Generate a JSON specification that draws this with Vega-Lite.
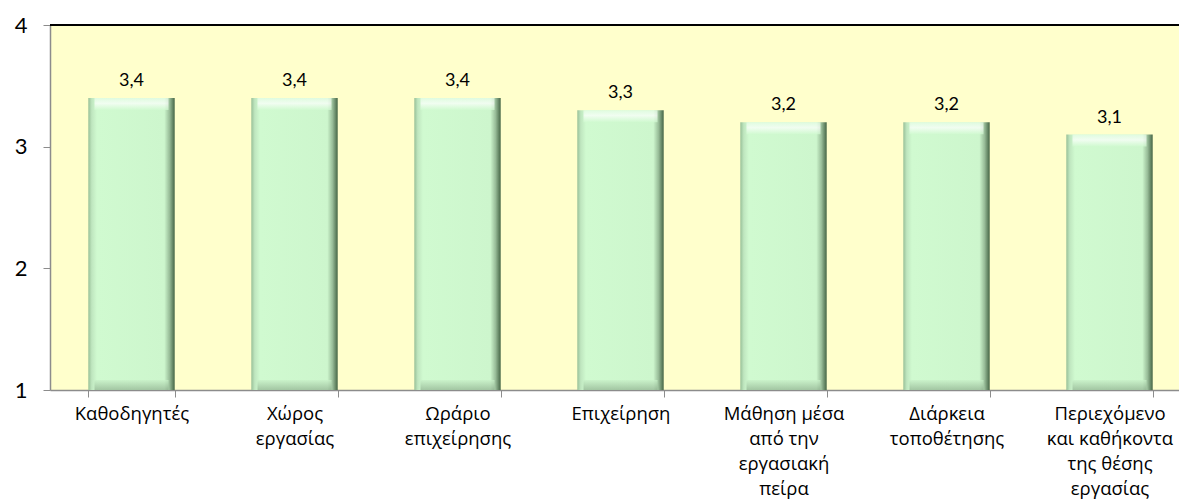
{
  "$schema": "https://vega.github.io/schema/vega-lite/v6.json",
  "autosize": "none",
  "padding": {"left": 50, "top": 25, "right": 0, "bottom": 114},
  "width": 1129,
  "height": 365,
  "background": "white",
  "config": {
    "view": {"fill": "#FFFFCC", "stroke": null},
    "font": "Open Sans",
    "axis": {"labelColor": "#000000", "grid": false, "title": null}
  },
  "data": {
    "values": [
      {"category": "Καθοδηγητές", "value": 3.4, "label": "3,4"},
      {"category": "Χώρος εργασίας", "value": 3.4, "label": "3,4"},
      {"category": "Ωράριο επιχείρησης", "value": 3.4, "label": "3,4"},
      {"category": "Επιχείρηση", "value": 3.3, "label": "3,3"},
      {"category": "Μάθηση μέσα από την εργασιακή πείρα", "value": 3.2, "label": "3,2"},
      {"category": "Διάρκεια τοποθέτησης", "value": 3.2, "label": "3,2"},
      {"category": "Περιεχόμενο και καθήκοντα της θέσης εργασίας", "value": 3.1, "label": "3,1"}
    ]
  },
  "encoding": {
    "x": {
      "field": "category",
      "type": "nominal",
      "sort": null,
      "scale": {"range": [0, 1141], "paddingInner": 0.47, "paddingOuter": 0.235},
      "axis": {
        "labelAngle": 0,
        "labelFont": "Open Sans",
        "labelFontSize": 18.5,
        "labelLineHeight": 25,
        "labelPadding": 7,
        "tickSize": 7,
        "tickColor": "#8c8c8c",
        "domainColor": "#8c8c8c",
        "domainWidth": 1.5,
        "tickBand": "extent",
        "labelLimit": 200,
        "labelExpr": "({'Χώρος εργασίας':['Χώρος','εργασίας'],'Ωράριο επιχείρησης':['Ωράριο','επιχείρησης'],'Μάθηση μέσα από την εργασιακή πείρα':['Μάθηση μέσα','από την','εργασιακή','πείρα'],'Διάρκεια τοποθέτησης':['Διάρκεια','τοποθέτησης'],'Περιεχόμενο και καθήκοντα της θέσης εργασίας':['Περιεχόμενο','και καθήκοντα','της θέσης','εργασίας']})[datum.label] || datum.label"
      }
    },
    "y": {
      "field": "value",
      "type": "quantitative",
      "scale": {"domain": [1, 4], "nice": false, "zero": false},
      "axis": {
        "values": [1, 2, 3, 4],
        "labelFont": "Lato",
        "labelFontSize": 22,
        "labelPadding": 16,
        "tickSize": 7,
        "tickColor": "#8c8c8c",
        "domainColor": "#8c8c8c",
        "domainWidth": 1.5
      }
    }
  },
  "layer": [
    {
      "mark": {
        "type": "bar",
        "color": {
          "gradient": "linear", "x1": 0, "y1": 0, "x2": 1, "y2": 0,
          "stops": [
            {"offset": 0, "color": "#98c098"},
            {"offset": 0.04, "color": "#bfe6bf"},
            {"offset": 0.1, "color": "#d0fad0"},
            {"offset": 0.88, "color": "#cdf6cd"},
            {"offset": 0.94, "color": "#98bc98"},
            {"offset": 1, "color": "#456545"}
          ]
        }
      },
      "encoding": {"y2": {"datum": 1}}
    },
    {
      "mark": {
        "type": "tick",
        "orient": "horizontal",
        "size": 74,
        "thickness": 12,
        "yOffset": 6,
        "color": {
          "gradient": "linear", "x1": 0, "y1": 0, "x2": 0, "y2": 1,
          "stops": [
            {"offset": 0, "color": "#e6fde6"},
            {"offset": 0.45, "color": "#ffffff"},
            {"offset": 1, "color": "#d0fad0"}
          ]
        }
      }
    },
    {
      "mark": {
        "type": "tick",
        "orient": "horizontal",
        "size": 74,
        "thickness": 10,
        "yOffset": -5,
        "color": {
          "gradient": "linear", "x1": 0, "y1": 0, "x2": 0, "y2": 1,
          "stops": [
            {"offset": 0, "color": "#c8f0c8"},
            {"offset": 1, "color": "#8fb08f"}
          ]
        }
      },
      "encoding": {"y": {"datum": 1}}
    },
    {
      "mark": {"type": "text", "baseline": "bottom", "dy": -8, "fontSize": 18, "font": "Lato", "color": "#000000"},
      "encoding": {"text": {"field": "label"}}
    },
    {
      "mark": {"type": "rule", "color": "#000000", "strokeWidth": 2},
      "encoding": {"y": {"datum": 4}, "x": null}
    }
  ]
}
